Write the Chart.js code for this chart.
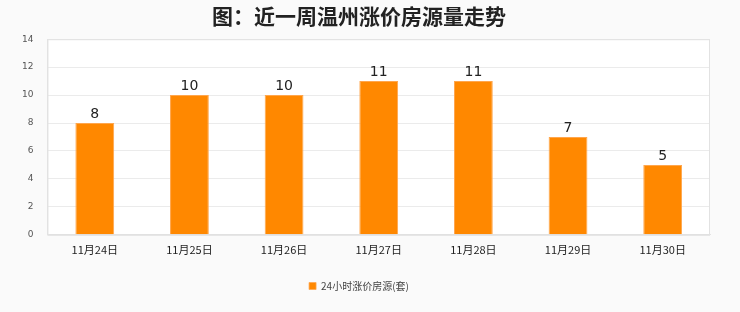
<!DOCTYPE html>
<html>
<head>
<meta charset="utf-8">
<script src="https://cdn.jsdelivr.net/npm/chart.js@4.4.1/dist/chart.umd.min.js"></script>
<style>
  html, body { margin: 0; padding: 0; background: #fafafa; }
  #wrap { width: 740px; height: 312px; position: relative; }
</style>
</head>
<body>
<div id="wrap"><canvas id="c" width="740" height="312"></canvas></div>
<script>
const categories = ['11月24日', '11月25日', '11月26日', '11月27日', '11月28日', '11月29日', '11月30日'];
const listings = [8, 10, 10, 11, 11, 7, 5];
const seriesName = '24小时涨价房源(套)';
const titleText = '图：近一周温州涨价房源量走势';

// White plot area with a light frame
const plotFrame = {
  id: 'plotFrame',
  beforeDraw(chart) {
    const { ctx, chartArea: a } = chart;
    ctx.save();
    ctx.fillStyle = '#ffffff';
    ctx.fillRect(a.left, a.top, a.right - a.left, a.bottom - a.top);
    ctx.restore();
  },
  afterDatasetsDraw(chart) {
    const { ctx, chartArea: a } = chart;
    ctx.save();
    ctx.strokeStyle = '#e2e2e2';
    ctx.lineWidth = 1;
    ctx.strokeRect(a.left + 0.5, a.top + 0.5, a.right - a.left - 1, a.bottom - a.top);
    ctx.restore();
  }
};

// Value labels above each bar
const valueLabels = {
  id: 'valueLabels',
  afterDatasetsDraw(chart) {
    const { ctx } = chart;
    const meta = chart.getDatasetMeta(0);
    ctx.save();
    ctx.fillStyle = '#222';
    ctx.font = '14px "DejaVu Sans", sans-serif';
    ctx.textAlign = 'center';
    ctx.textBaseline = 'bottom';
    meta.data.forEach((bar, i) => {
      ctx.fillText(String(chart.data.datasets[0].data[i]), bar.x, bar.y - 2);
    });
    ctx.restore();
  }
};

new Chart(document.getElementById('c'), {
  type: 'bar',
  data: {
    labels: categories,
    datasets: [{
      label: seriesName,
      data: listings,
      backgroundColor: '#ff8800',
      borderColor: '#ffa64d',
      borderWidth: { top: 1, left: 1, right: 1, bottom: 0 },
      categoryPercentage: 1,
      barPercentage: 0.41
    }]
  },
  options: {
    responsive: false,
    animation: false,
    layout: { padding: { left: 8, right: 30, top: 0, bottom: 11 } },
    plugins: {
      title: {
        display: true,
        text: titleText,
        color: '#222',
        font: { family: '"Noto Sans CJK SC", sans-serif', size: 21, weight: 'bold' },
        padding: { top: 3, bottom: 11 }
      },
      legend: {
        position: 'bottom',
        labels: {
          boxWidth: 7,
          boxHeight: 7,
          color: '#444',
          font: { family: '"Noto Sans CJK SC", sans-serif', size: 10 },
          padding: 16
        }
      },
      tooltip: { enabled: false }
    },
    scales: {
      x: {
        grid: { display: false },
        border: { color: '#e2e2e2' },
        afterFit(scale) { scale.height += 9; },
        ticks: {
          color: '#222',
          font: { family: '"Noto Sans CJK SC", serif', size: 11 },
          padding: 0
        }
      },
      y: {
        min: 0,
        max: 14,
        grid: { color: '#ebebeb', drawTicks: false },
        border: { color: '#e2e2e2' },
        ticks: {
          stepSize: 2,
          color: '#555',
          font: { family: '"DejaVu Sans", sans-serif', size: 9 },
          padding: 14
        }
      }
    }
  },
  plugins: [plotFrame, valueLabels]
});
</script>
</body>
</html>
